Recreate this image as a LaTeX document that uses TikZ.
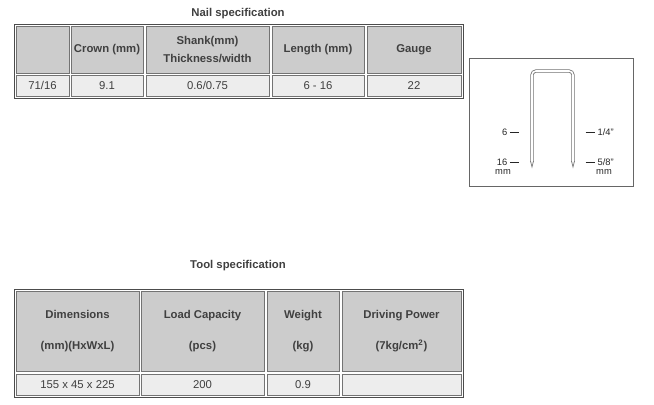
\documentclass[tikz,border=0pt]{standalone}
\usepackage{fontspec}
\setmainfont{Liberation Sans}
\begin{document}
\begin{tikzpicture}[x=0.75pt,y=-0.75pt,
  hd/.style={fill=black!20,draw=black!55,line width=0.75pt},
  dt/.style={fill=black!7,draw=black!55,line width=0.75pt},
  outer/.style={draw=black!70,line width=0.75pt},
  ht/.style={font=\fontsize{8.5}{13}\selectfont\bfseries,text=black!75,align=center},
  dtt/.style={font=\fontsize{8.5}{10}\selectfont,text=black!75},
  lab/.style={font=\fontsize{7}{7.5}\selectfont,text=black!85,align=center}]
\useasboundingbox (0,0) rectangle (654,404);
\fill[white] (0,0) rectangle (654,404);
% top table
\node[ht] (t1) at (238,14) {Nail specification};
\draw[outer] (14,24) rectangle (463,98);
\newcommand\mycell[7]{\draw[#6] (#2,#3) rectangle (#4,#5);
  \node[#7] (#1) at ({(#2+#4)/2},{(#3+#5)/2})}
\mycell{h1}{16}{26}{69}{73}{hd}{ht} {};
\mycell{h2}{71}{26}{143}{73}{hd}{ht} {Crown (mm)};
\mycell{h3}{146}{26}{269}{73}{hd}{ht} {Shank(mm)\\Thickness/width};
\mycell{h4}{272}{26}{364}{73}{hd}{ht} {Length (mm)};
\mycell{h5}{367}{26}{461}{73}{hd}{ht} {Gauge};
\mycell{d1}{16}{75}{69}{96}{dt}{dtt} {71/16};
\mycell{d2}{71}{75}{143}{96}{dt}{dtt} {9.1};
\mycell{d3}{146}{75}{269}{96}{dt}{dtt} {0.6/0.75};
\mycell{d4}{272}{75}{364}{96}{dt}{dtt} {6 - 16};
\mycell{d5}{367}{75}{461}{96}{dt}{dtt} {22};
% staple box
\draw[black!60,line width=0.75pt] (469,58) rectangle (633,186);
\draw[black!55,line width=0.6pt,double=white,double distance=1.2pt,rounded corners=3pt]
  (532,162) -- (532,71) -- (573,71) -- (573,162);
\draw[black!55,line width=0.5pt] (530.5,161) -- (532,167) -- (533.5,161);
\draw[black!55,line width=0.5pt] (571.5,161) -- (573,167) -- (574.5,161);
\node[lab,anchor=east] (l1) at (524,132) {6 \rule[2pt]{7pt}{0.4pt}};
\node[lab,anchor=east] (l2) at (524,162) {16 \rule[2pt]{7pt}{0.4pt}};
\node[lab] (l3) at (503,172) {mm};
\node[lab,anchor=west] (r1) at (581,132) {\rule[2pt]{7pt}{0.4pt} 1/4"};
\node[lab,anchor=west] (r2) at (581,162) {\rule[2pt]{7pt}{0.4pt} 5/8"};
\node[lab] (r3) at (604,172) {mm};
% bottom table
\node[ht] (t2) at (238,266) {Tool specification};
\draw[outer] (14,289) rectangle (463,397);
\mycell{g1}{16}{291}{139}{371}{hd}{ht} {Dimensions\\[10pt](mm)(HxWxL)};
\mycell{g2}{141}{291}{264}{371}{hd}{ht} {Load Capacity\\[10pt](pcs)};
\mycell{g3}{267}{291}{339}{371}{hd}{ht} {Weight\\[10pt](kg)};
\mycell{g4}{342}{291}{461}{371}{hd}{ht} {Driving Power\\[10pt](7kg/cm$^{\mathbf 2}$)};
\mycell{e1}{16}{374}{139}{395}{dt}{dtt} {155 x 45 x 225};
\mycell{e2}{141}{374}{264}{395}{dt}{dtt} {200};
\mycell{e3}{267}{374}{339}{395}{dt}{dtt} {0.9};
\mycell{e4}{342}{374}{461}{395}{dt}{dtt} {};
\end{tikzpicture}
\end{document}
